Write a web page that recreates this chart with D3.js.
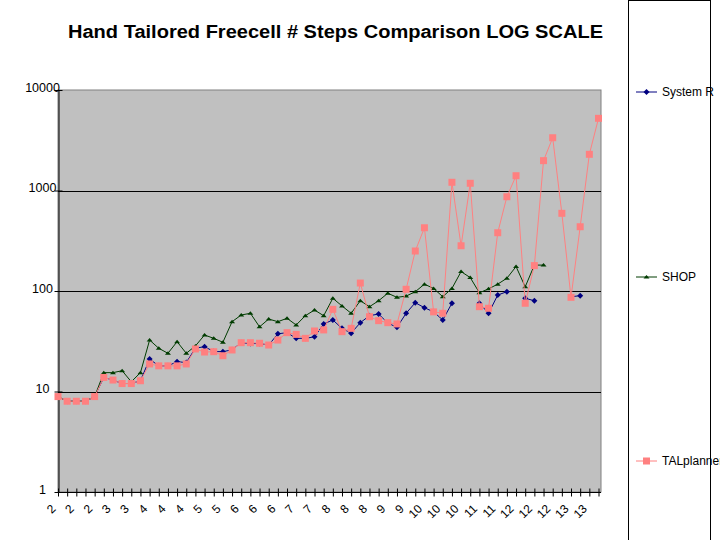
<!DOCTYPE html>
<html>
<head>
<meta charset="utf-8">
<script src="https://cdn.jsdelivr.net/npm/d3@7"></script>
<style>
  body { margin: 0; background: #ffffff; }
  svg text { font-family: Arial, "Liberation Sans", sans-serif; }
</style>
</head>
<body>
<div id="d3content"></div>
<script>
// problem size (cards per suit), 5 problems each
var categories = [2,2,2,2,2, 3,3,3,3,3, 4,4,4,4,4, 5,5,5,5,5, 6,6,6,6,6, 7,7,7,7,7,
                  8,8,8,8,8, 9,9,9,9,9, 10,10,10,10,10, 11,11,11,11,11, 12,12,12,12,12, 13,13,13,13,13];

var systemR = [8.9, 8, 8, 8, 8.9, 13.8, 13, 12, 12, 12.8,
               21, 18, 18, 19.8, 19.4, 27, 27.9, 25, 24.9, 26,
               30.6, 30, 30, 29, 37.5, 38.5, 33.8, 33.8, 35, 47,
               51.5, 42.5, 38, 48.4, 56.8, 59, 48, 43.5, 60, 76.5,
               68.2, 62, 51.5, 75.5, null, null, 75.5, 60, 91.2, 98.4,
               null, 84.6, 80, null, null, null, 87.7, 89.8, null, null];

var shop = [8.9, 8, 8, 8, 8.9, 15.4, 15.4, 16.1, 12.5, 15.4,
            32.5, 26.9, 24, 31.3, 24, 28.4, 36.5, 33.8, 30.9, 49.5,
            57.7, 60, 44, 52.6, 49.5, 53.5, 45.9, 56.8, 64.7, 56.8,
            84.6, 71, 60, 80, 69.8, 80, 95, 86.5, 89, 98.4,
            117, 106, 87.8, 106, 156, 136, 96, 105, 117, 134,
            175, 110, 181, 181, null, null, null, null, null, null];

var talplanner = [8.9, 8, 8, 8, 8.9, 13.8, 13, 12, 12, 12.8,
                  18.8, 18, 18, 18, 18.8, 26.5, 24.7, 24.9, 22.7, 25.9,
                  30.6, 30.6, 30.2, 29, 32.5, 38.5, 37, 33.8, 40, 41,
                  65.7, 39.4, 42.5, 120, 55.5, 50.7, 48.4, 47, 104, 250,
                  426, 62, 60, 1207, 282, 1180, 69.8, 67.3, 380, 867,
                  1403, 75.5, 179, 1982, 3350, 593, 86.5, 436, 2291, 5225];

var yTicks = [1, 10, 100, 1000, 10000];

var seriesNames = ["System R", "SHOP", "TALplanner"];

var width = 720, height = 540;

var svg = d3.select("#d3content").append("svg")
    .attr("width", width)
    .attr("height", height);

// plot area
var plot = { left: 58, right: 601, top: 90, bottom: 492 };

var x = d3.scalePoint()
    .domain(d3.range(categories.length))
    .range([58, 598.5]);

var y = d3.scaleLog()
    .domain([1, 10000])
    .range([plot.bottom, plot.top]);

svg.append("rect")
    .attr("x", plot.left)
    .attr("y", plot.top)
    .attr("width", plot.right - plot.left)
    .attr("height", plot.bottom - plot.top)
    .attr("fill", "#c0c0c0")
    .attr("stroke", "#808080")
    .attr("stroke-width", 1);

// gridlines
svg.selectAll(".grid")
    .data(yTicks.slice(1, 4))
    .enter().append("line")
    .attr("class", "grid")
    .attr("x1", plot.left)
    .attr("x2", plot.right)
    .attr("y1", function(d) { return Math.round(y(d)) + 0.5; })
    .attr("y2", function(d) { return Math.round(y(d)) + 0.5; })
    .attr("stroke", "#000000")
    .attr("stroke-width", 1);

// title
svg.append("text")
    .attr("x", 335.5)
    .attr("y", 38)
    .attr("text-anchor", "middle")
    .attr("textLength", 535)
    .attr("lengthAdjust", "spacingAndGlyphs")
    .style("font-size", "18px")
    .style("font-weight", "bold")
    .text("Hand Tailored Freecell # Steps Comparison LOG SCALE");

// y axis
var yAxis = d3.axisLeft(y)
    .tickValues(yTicks)
    .tickSize(0)
    .tickFormat(d3.format("d"));

var gy = svg.append("g")
    .attr("transform", "translate(" + (plot.left + 0.5) + ",0)")
    .call(yAxis);
gy.select(".domain").attr("stroke", "#000000");
gy.selectAll(".tick text")
    .attr("x", -16)
    .attr("dy", "0.08em")
    .attr("text-anchor", "middle")
    .style("font-size", "12.5px")
    .attr("fill", "#000000");
gy.selectAll(".tick").append("line")
    .attr("x1", -4)
    .attr("x2", 4)
    .attr("stroke", "#000000");

// x axis
var xAxis = d3.axisBottom(x)
    .tickSize(0)
    .tickFormat(function(i) { return i % 2 === 0 ? categories[i] : ""; });

var gx = svg.append("g")
    .attr("transform", "translate(0," + (plot.bottom + 0.5) + ")")
    .call(xAxis);
gx.select(".domain")
    .attr("d", "M" + plot.left + ",0H" + plot.right)
    .attr("stroke", "#000000");
gx.selectAll(".tick").append("line")
    .attr("y1", -4)
    .attr("y2", 4)
    .attr("stroke", "#000000");
gx.selectAll(".tick text")
    .attr("y", 0)
    .attr("dy", 0)
    .attr("text-anchor", "end")
    .attr("transform", "translate(-2,17) rotate(-45)")
    .style("font-size", "12px")
    .attr("fill", "#000000");

// series
var series = [
    { name: seriesNames[0], values: systemR, color: "#000080", marker: "diamond" },
    { name: seriesNames[1], values: shop, color: "#003c00", marker: "triangle" },
    { name: seriesNames[2], values: talplanner, color: "#ff8080", marker: "square" }
];

var line = d3.line()
    .defined(function(d) { return d != null; })
    .x(function(d, i) { return x(i); })
    .y(function(d) { return y(d); });

function drawMarker(g, type, color, cx, cy) {
    if (type === "square") {
        g.append("rect")
            .attr("x", cx - 3.5).attr("y", cy - 3.5)
            .attr("width", 7).attr("height", 7)
            .attr("fill", color);
    } else if (type === "diamond") {
        g.append("path")
            .attr("d", "M" + cx + "," + (cy - 3) + "L" + (cx + 3) + "," + cy + "L" + cx + "," + (cy + 3) + "L" + (cx - 3) + "," + cy + "Z")
            .attr("fill", color);
    } else {
        g.append("path")
            .attr("d", "M" + cx + "," + (cy - 2) + "L" + (cx + 3) + "," + (cy + 1.5) + "L" + (cx - 3) + "," + (cy + 1.5) + "Z")
            .attr("fill", color);
    }
}

series.forEach(function(s) {
    var g = svg.append("g").attr("class", "series");
    g.append("path")
        .datum(s.values)
        .attr("fill", "none")
        .attr("stroke", s.color)
        .attr("stroke-width", 1)
        .attr("d", line);
    s.values.forEach(function(v, i) {
        if (v != null) drawMarker(g, s.marker, s.color, x(i), y(v));
    });
});

// legend
svg.append("rect")
    .attr("x", 628.5)
    .attr("y", 0.5)
    .attr("width", 82)
    .attr("height", 545)
    .attr("fill", "#ffffff")
    .attr("stroke", "#000000");

var legendY = [92, 277, 461];

series.forEach(function(s, k) {
    var g = svg.append("g").attr("transform", "translate(0," + legendY[k] + ")");
    g.append("line")
        .attr("x1", 636).attr("x2", 657)
        .attr("y1", 0).attr("y2", 0)
        .attr("stroke", s.color);
    drawMarker(g, s.marker, s.color, 646.5, 0);
    g.append("text")
        .attr("x", 662)
        .attr("y", 0)
        .attr("dy", "0.35em")
        .style("font-size", "12px")
        .text(s.name);
});
</script>
</body>
</html>
